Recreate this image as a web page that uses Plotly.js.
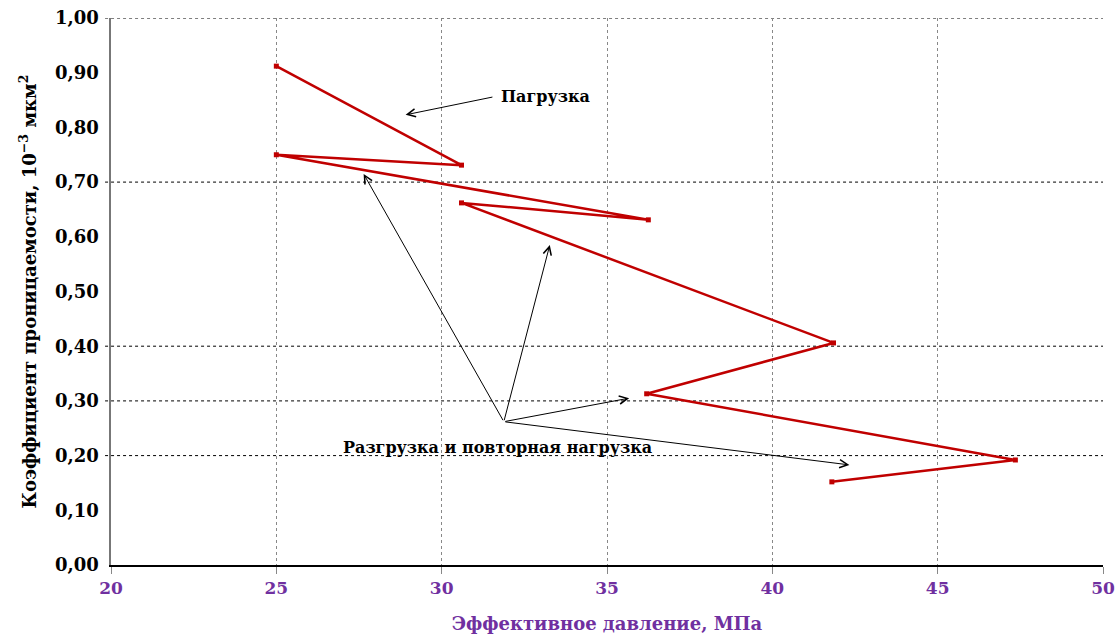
<!DOCTYPE html>
<html><head><meta charset="utf-8">
<script src="https://cdn.plot.ly/plotly-3.0.1.min.js"></script>
<style>html,body{margin:0;padding:0;background:#fff}#c{width:1119px;height:642px}</style>
</head><body><div id="c"></div>
<script>
const pressure = [25.0, 30.6, 25.0, 36.25, 30.6, 41.85, 36.2, 47.35, 41.8];
const permeability = [0.912, 0.731, 0.750, 0.631, 0.662, 0.406, 0.313, 0.192, 0.152];
const yTicks = [0, 0.1, 0.2, 0.3, 0.4, 0.5, 0.6, 0.7, 0.8, 0.9, 1.0];
const xTicks = [20, 25, 30, 35, 40, 45, 50];
const yGridLines = [0.2, 0.3, 0.4, 0.7, 1.0];
const loadLabel = 'Пагрузка';
const unloadLabel = 'Разгрузка и повторная нагрузка';
const loadArrow = {tail: [31.58, 0.856], head: [28.91, 0.823], text: [33.15, 0.857]};
const unloadTail = [31.88, 0.262];
const unloadHeads = [[27.64, 0.715], [33.27, 0.585], [35.67, 0.305], [42.33, 0.183]];
const unloadText = [31.7, 0.215];

const serif = 'DejaVu Serif';
const purple = '#7030A0';

const shapes = yGridLines.map(v => ({
  type: 'line', xref: 'paper', yref: 'y', x0: -0.006, x1: 1, y0: v, y1: v,
  line: {color: '#000', width: 1, dash: 'dot'}, layer: 'below'
}));

const annotations = [];
annotations.push({x: loadArrow.head[0], y: loadArrow.head[1], ax: loadArrow.tail[0], ay: loadArrow.tail[1],
  xref: 'x', yref: 'y', axref: 'x', ayref: 'y', text: '', showarrow: true,
  arrowhead: 5, arrowsize: 1.6, arrowwidth: 1, arrowcolor: '#000'});
annotations.push({x: loadArrow.text[0], y: loadArrow.text[1], xref: 'x', yref: 'y', text: '<b>' + loadLabel + '</b>',
  showarrow: false, font: {family: serif, size: 16, color: '#000'}});
unloadHeads.forEach(h => annotations.push({x: h[0], y: h[1], ax: unloadTail[0], ay: unloadTail[1],
  xref: 'x', yref: 'y', axref: 'x', ayref: 'y', text: '', showarrow: true,
  arrowhead: 5, arrowsize: 1.6, arrowwidth: 1, arrowcolor: '#000'}));
annotations.push({x: unloadText[0], y: unloadText[1], xref: 'x', yref: 'y', text: '<b>' + unloadLabel + '</b>',
  showarrow: false, font: {family: serif, size: 16, color: '#000'}});

const trace = {
  x: pressure, y: permeability, type: 'scatter', mode: 'lines+markers',
  line: {color: '#C00000', width: 2.5},
  marker: {symbol: 'square', size: 5, color: '#C00000'},
  hoverinfo: 'none'
};

const layout = {
  width: 1119, height: 642,
  margin: {l: 111, r: 16, t: 18, b: 77},
  paper_bgcolor: '#fff', plot_bgcolor: '#fff',
  separators: ', ',
  showlegend: false,
  font: {family: serif},
  xaxis: {
    range: [20, 50], tickvals: xTicks, ticktext: xTicks.map(String),
    showgrid: true, gridcolor: '#888', griddash: 'dot', gridwidth: 1,
    showline: true, linecolor: '#000', linewidth: 1.5,
    ticks: 'outside', ticklen: 7, tickcolor: '#888', tickwidth: 1,
    zeroline: false,
    tickfont: {family: serif, size: 17, color: purple, weight: 'bold'},
    title: {text: 'Эффективное давление, МПа', standoff: 20,
      font: {family: serif, size: 18, color: purple, weight: 'bold'}}
  },
  yaxis: {
    range: [0, 1.0], tickvals: yTicks, tickformat: '.2f',
    showgrid: false, zeroline: false,
    showline: true, linecolor: '#777', linewidth: 2.5,
    ticks: '', ticklabelstandoff: 6,
    tickfont: {family: serif, size: 18, color: '#000', weight: 'bold'},
    title: {text: 'Коэффициент проницаемости, 10<sup>−3</sup> мкм<sup>2</sup>', standoff: 14,
      font: {family: serif, size: 18, color: '#000', weight: 'bold'}}
  },
  shapes: shapes,
  annotations: annotations
};

Plotly.newPlot('c', [trace], layout, {staticPlot: true, displayModeBar: false});
</script></body></html>
